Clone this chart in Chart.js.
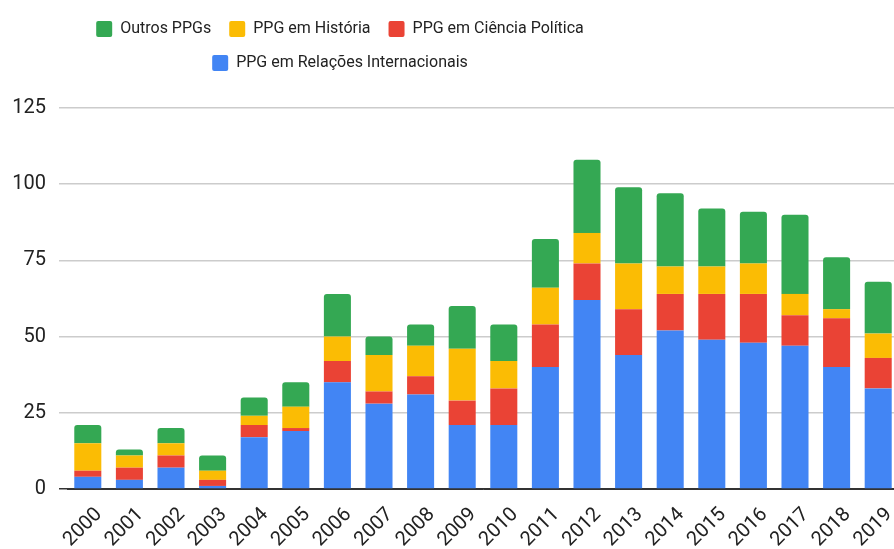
<!DOCTYPE html>
<html>
<head>
<meta charset="utf-8">
<script src="https://cdn.jsdelivr.net/npm/chart.js@4"></script>
<style>
  html, body { margin: 0; padding: 0; background: #fff; overflow: hidden; }
  #wrap { width: 905px; height: 549px; }
</style>
</head>
<body>
<div id="wrap"><canvas id="myChart"></canvas></div>
<script>
var anos = ['2000', '2001', '2002', '2003', '2004', '2005', '2006', '2007', '2008', '2009',
    '2010', '2011', '2012', '2013', '2014', '2015', '2016', '2017', '2018', '2019'];

var relacoesInt = [4, 3, 7, 1, 17, 19, 35, 28, 31, 21, 21, 40, 62, 44, 52, 49, 48, 47, 40, 33];
var cienciaPol = [2, 4, 4, 2, 4, 1, 7, 4, 6, 8, 12, 14, 12, 15, 12, 15, 16, 10, 16, 10];
var historia = [9, 4, 4, 3, 3, 7, 8, 12, 10, 17, 9, 12, 10, 15, 9, 9, 10, 7, 3, 8];
var outros = [6, 2, 5, 5, 6, 8, 14, 6, 7, 14, 12, 16, 24, 25, 24, 19, 17, 26, 17, 17];

var yTicks = [0, 25, 50, 75, 100, 125];

// legend wraps in two rows and sits a bit left, like the original
var legendRows = {
    id: 'legendRows',
    afterInit: function (chart) {
        var lg = chart.legend;
        var fitRows = lg._fitRows;
        lg._fitRows = function () {
            var mw = this.maxWidth;
            this.maxWidth = 640;
            var h = fitRows.apply(this, arguments);
            this.maxWidth = mw;
            return h + 27;
        };
    },
    afterLayout: function (chart) {
        var lg = chart.legend;
        lg.right = lg.left + 680;
        lg.width = 680;
    }
};

// Draw Chart
new Chart('myChart', {
    type: 'bar',
    data: {
        labels: anos,
        datasets: [
            { label: 'PPG em Relações Internacionais', data: relacoesInt, backgroundColor: '#4285F4' },
            { label: 'PPG em Ciência Política', data: cienciaPol, backgroundColor: '#EA4335' },
            { label: 'PPG em História', data: historia, backgroundColor: '#FBBC04' },
            { label: 'Outros PPGs', data: outros, backgroundColor: '#34A853' }
        ]
    },
    plugins: [legendRows],
    options: {
        responsive: true,
        maintainAspectRatio: false,
        devicePixelRatio: 1,
        animation: false,
        datasets: {
            bar: { categoryPercentage: 1, barPercentage: 0.65, borderRadius: 3, borderSkipped: 'start' }
        },
        layout: { padding: { top: 3, right: 6, left: 0, bottom: 0 } },
        plugins: {
            legend: {
                reverse: true,
                labels: {
                    boxWidth: 16, boxHeight: 16, padding: 18, useBorderRadius: true, borderRadius: 2,
                    color: '#222', font: { family: 'Roboto', size: 16 }
                }
            },
            tooltip: { enabled: false }
        },
        scales: {
            x: {
                stacked: true,
                grid: { display: false },
                border: { display: true, color: '#333', width: 1 },
                ticks: {
                    color: '#222', minRotation: 45, maxRotation: 45, autoSkip: false,
                    labelOffset: 11, padding: 6,
                    font: { family: 'Roboto', size: 20 }
                },
                afterFit: function (axis) { axis.height = 60; }
            },
            y: {
                stacked: true,
                min: 0, max: 125,
                afterBuildTicks: function (axis) { axis.ticks = yTicks.map(function (v) { return { value: v }; }); },
                grid: {
                    color: function (c) { return c.tick && c.tick.value === 0 ? '#333' : '#ccc'; },
                    lineWidth: 1.5, drawTicks: true, tickLength: 8
                },
                border: { display: false },
                ticks: { color: '#222', padding: 13, font: { family: 'Roboto', size: 20 } },
                afterFit: function (axis) { axis.width = 67; }
            }
        }
    }
});
</script>
</body>
</html>
